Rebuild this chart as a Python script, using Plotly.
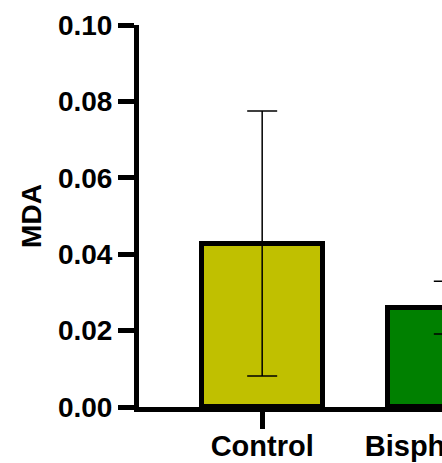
import plotly.graph_objects as go

categories = ["Control", "Bisphenol A"]
mda_mean = [0.0428, 0.0260]
mda_sd = [0.0347, 0.0069]
bar_colors = ["#C0C000", "#008000"]
y_ticks = [0.00, 0.02, 0.04, 0.06, 0.08, 0.10]

font_family = "Liberation Sans, Arial, sans-serif"

fig = go.Figure()
fig.add_trace(go.Bar(
    x=categories,
    y=mda_mean,
    width=0.65,
    marker=dict(color=bar_colors, line=dict(color="black", width=5)),
    error_y=dict(type="data", array=mda_sd, visible=True,
                 color="black", thickness=1.5, width=15),
))

fig.update_layout(
    width=580, height=463,
    margin=dict(l=139, r=8, t=24.5, b=55.5),
    paper_bgcolor="white", plot_bgcolor="white",
    showlegend=False,
    bargap=0,
)
fig.update_xaxes(
    range=[-0.66, 1.66], automargin=False,
    showline=True, linecolor="black", linewidth=5,
    ticks="outside", ticklen=17, tickwidth=5, tickcolor="black",
    ticklabelstandoff=-8,
    tickfont=dict(family=font_family, size=29, color="black", weight="bold"),
    showgrid=False, zeroline=False,
)
fig.update_yaxes(
    range=[0, 0.10], automargin=False,
    tickvals=y_ticks, tickformat=".2f",
    showline=True, linecolor="black", linewidth=5,
    ticks="outside", ticklen=16, tickwidth=5, tickcolor="black",
    tickfont=dict(family=font_family, size=28, color="black", weight="bold"),
    title=dict(text="MDA", font=dict(family=font_family, size=28, color="black", weight="bold"), standoff=10),
    showgrid=False, zeroline=False,
)

fig.write_html("out.html", post_script="document.body.style.overflow='hidden';document.documentElement.style.overflow='hidden';")
